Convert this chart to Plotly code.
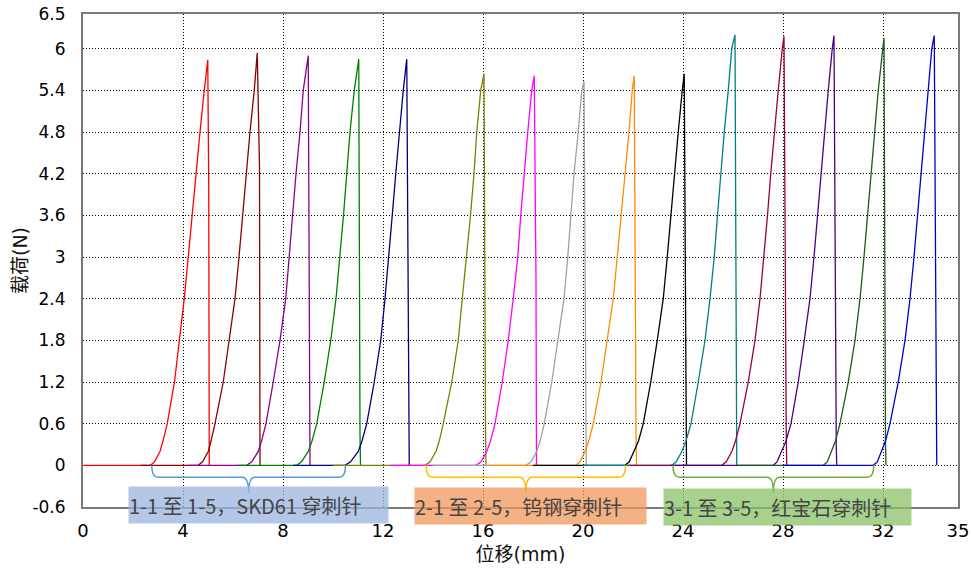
import plotly.graph_objects as go

# ---------------- data ----------------
names = ["1-1", "1-2", "1-3", "1-4", "1-5",
         "2-1", "2-2", "2-3", "2-4", "2-5",
         "3-1", "3-2", "3-3", "3-4", "3-5"]
colors = ["#FF0000", "#8B0000", "#8B008B", "#008000", "#000080",
          "#808000", "#FF00FF", "#A0A0A0", "#FF8C00", "#000000",
          "#008080", "#990044", "#4B0082", "#1E5A1E", "#0000CD"]

# x where each record's data begins (flat zero-load segment)
base_start = [0.0, 2.3, 4.2, 6.2, 8.4, 10.0, 12.3, 14.0, 16.2, 18.0,
              20.0, 21.8, 23.5, 26.2, 28.0]

# load levels (N) used for reading the rising branch
loads_g12 = [0, 0.05, 0.2, 0.35, 0.6, 1.2, 1.8, 2.4, 3.0, 3.6, 4.2, 4.8, 5.4]
loads_g3 = [0, 0.05, 0.2, 0.35, 0.6, 1.2, 1.8, 2.4, 3.0, 3.6, 4.2, 4.8, 5.4, 6.0]

# displacement (mm) at each load level on the rising branch
rise_x = [
    [2.70, 2.86, 3.08, 3.20, 3.37, 3.66, 3.87, 4.05, 4.21, 4.36, 4.51, 4.68, 4.85],
    [4.61, 4.78, 5.01, 5.12, 5.28, 5.61, 5.85, 6.08, 6.24, 6.38, 6.52, 6.68, 6.85],
    [6.55, 6.75, 7.01, 7.14, 7.32, 7.61, 7.88, 8.11, 8.24, 8.38, 8.52, 8.68, 8.81],
    [8.55, 8.74, 9.01, 9.16, 9.35, 9.65, 9.91, 10.12, 10.28, 10.42, 10.55, 10.68, 10.85],
    [10.48, 10.70, 11.01, 11.16, 11.35, 11.65, 11.91, 12.08, 12.21, 12.37, 12.51, 12.65, 12.81],
    [13.68, 13.88, 14.12, 14.25, 14.41, 14.75, 15.01, 15.17, 15.35, 15.50, 15.64, 15.75, 15.91],
    [15.72, 15.92, 16.15, 16.30, 16.48, 16.77, 17.01, 17.21, 17.39, 17.51, 17.64, 17.79, 17.95],
    [17.72, 17.92, 18.15, 18.28, 18.45, 18.75, 19.01, 19.24, 19.39, 19.51, 19.64, 19.81, 19.95],
    [19.71, 19.88, 20.08, 20.23, 20.41, 20.72, 20.97, 21.21, 21.37, 21.53, 21.68, 21.84, 21.97],
    [21.68, 21.85, 22.04, 22.22, 22.41, 22.71, 22.97, 23.21, 23.37, 23.51, 23.65, 23.81, 23.97],
    [23.55, 23.73, 23.95, 24.12, 24.32, 24.61, 24.88, 25.08, 25.25, 25.38, 25.51, 25.65, 25.81, 25.95],
    [25.55, 25.73, 25.95, 26.10, 26.28, 26.61, 26.88, 27.08, 27.24, 27.38, 27.51, 27.65, 27.81, 27.97],
    [27.61, 27.76, 27.95, 28.12, 28.32, 28.61, 28.85, 29.08, 29.24, 29.38, 29.51, 29.65, 29.81, 29.97],
    [29.61, 29.77, 29.95, 30.10, 30.28, 30.61, 30.88, 31.08, 31.24, 31.38, 31.51, 31.65, 31.81, 31.99],
    [31.61, 31.77, 31.95, 32.10, 32.28, 32.61, 32.88, 33.08, 33.24, 33.38, 33.51, 33.65, 33.81, 33.95],
]
peak_x = [4.99, 6.97, 9.01, 11.03, 12.95, 16.04, 18.05, 20.04, 22.05, 24.05,
          26.08, 28.04, 30.04, 32.04, 34.05]
peak_y = [5.84, 5.94, 5.90, 5.85, 5.85, 5.64, 5.61, 5.53, 5.61, 5.64,
          6.20, 6.18, 6.19, 6.15, 6.19]
drop_x = [5.05, 7.08, 9.08, 11.10, 13.05, 16.12, 18.14, 20.13, 22.14, 24.14,
          26.15, 28.15, 30.15, 32.12, 34.15]
drop_step_y = [3.97, 4.30, 2.24, 0.46, 2.20, 0.50, 2.65, 0.18, 0.48, 1.13,
               0.77, 0.40, 0.30, 0.30, 1.45]

groups = [(0, 5), (5, 10), (10, 15)]
group_labels = ["1-1 至 1-5，SKD61 穿刺针", "2-1 至 2-5，钨钢穿刺针", "3-1 至 3-5，红宝石穿刺针"]
brace_colors = ["#5B9BD5", "#FFC000", "#70AD47"]
box_colors = ["rgba(155,180,223,0.75)", "rgba(240,151,90,0.75)", "rgba(140,194,104,0.75)"]

x_tickvals = [0, 4, 8, 12, 16, 20, 24, 28, 32, 35]
y_tickvals = [-0.6, 0, 0.6, 1.2, 1.8, 2.4, 3, 3.6, 4.2, 4.8, 5.4, 6, 6.5]
y_ticktext = ["-0.6", "0", "0.6", "1.2", "1.8", "2.4", "3", "3.6", "4.2", "4.8", "5.4", "6", "6.5"]

# ---------------- figure ----------------
fig = go.Figure()
for i in range(len(names)):
    loads = loads_g3 if len(rise_x[i]) == len(loads_g3) else loads_g12
    xs = [base_start[i]] + rise_x[i] + [peak_x[i], drop_x[i] - 0.02, drop_x[i]]
    ys = [0] + loads + [peak_y[i], drop_step_y[i], 0]
    fig.add_trace(go.Scatter(x=xs, y=ys, mode="lines", name=names[i],
                             line=dict(color=colors[i], width=1.3),
                             showlegend=False, hoverinfo="skip"))

shapes = []
annotations = []
box_left = [1.79, 13.25, 23.21]
box_width = [259, 231, 247]
box_yc = [-0.572, -0.585, -0.595]
for g, (a, b) in enumerate(groups):
    x0 = rise_x[a][0] + 0.05
    x1 = rise_x[b - 1][0] + 0.02
    xc = (x0 + x1) / 2
    r, h, t = 0.25, -0.17, -0.40
    path = (f"M{x0},0 Q{x0},{h} {x0 + r},{h} L{xc - r},{h} Q{xc},{h} {xc},{t} "
            f"Q{xc},{h} {xc + r},{h} L{x1 - r},{h} Q{x1},{h} {x1},0")
    shapes.append(dict(type="path", path=path, xref="x", yref="y",
                       line=dict(color=brace_colors[g], width=1.5)))
    annotations.append(dict(x=box_left[g], y=box_yc[g], xref="x", yref="y",
                            xanchor="left", yanchor="middle", showarrow=False,
                            text=group_labels[g], align="left",
                            width=box_width[g], height=36, borderpad=0,
                            bgcolor=box_colors[g],
                            font=dict(family="Noto Sans CJK SC", size=20, color="#454545")))

grid_dash = "1px,2px"
fig.update_layout(
    width=972, height=570,
    margin=dict(l=83, r=14, t=14, b=63),
    paper_bgcolor="white", plot_bgcolor="white",
    shapes=shapes, annotations=annotations,
    font=dict(family="DejaVu Sans, Noto Sans CJK SC", size=18, color="#000000"),
)
fig.update_xaxes(range=[0, 35], tickvals=x_tickvals, ticks="", ticklabelstandoff=6,
                 automargin=False,
                 showgrid=True, gridcolor="#000000", griddash=grid_dash, gridwidth=1,
                 showline=True, linecolor="#7a7a7a", linewidth=2, mirror=True,
                 zeroline=False,
                 tickfont=dict(family="DejaVu Sans", size=18, color="#000"),
                 title=dict(text="位移(mm)", standoff=8,
                            font=dict(family="DejaVu Sans, Noto Sans CJK SC", size=19, color="#111")))
fig.update_yaxes(range=[-0.6, 6.5], tickvals=y_tickvals, ticktext=y_ticktext, ticks="",
                 ticklabelstandoff=12, automargin=False,
                 showgrid=True, gridcolor="#000000", griddash=grid_dash, gridwidth=1,
                 showline=True, linecolor="#7a7a7a", linewidth=2, mirror=True,
                 zeroline=False,
                 tickfont=dict(family="DejaVu Sans", size=17, color="#000"),
                 title=dict(text="载荷(N)", standoff=0,
                            font=dict(family="DejaVu Sans, Noto Sans CJK SC", size=19, color="#111")))

fig.write_html("out.html", config={"displayModeBar": False},
               post_script="document.body.style.margin='0';document.body.style.overflow='hidden';")
